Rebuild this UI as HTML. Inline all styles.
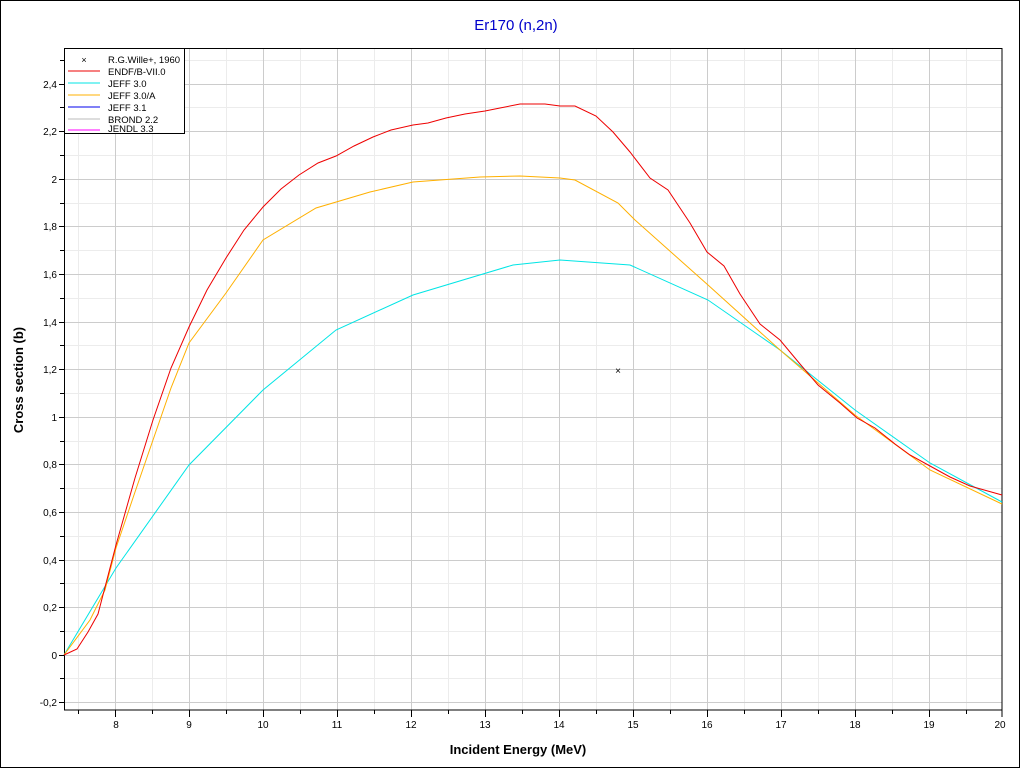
<!DOCTYPE html>
<html><head><meta charset="utf-8"><style>
body{margin:0;background:#fff;}
svg{display:block;font-family:"Liberation Sans",sans-serif;}
</style></head><body>
<svg width="1024" height="768" viewBox="0 0 1024 768" xmlns="http://www.w3.org/2000/svg">
<rect x="0" y="0" width="1024" height="768" fill="#fff"/>
<rect x="0.5" y="0.5" width="1019" height="767" fill="none" stroke="#000"/>
<text x="516" y="30" text-anchor="middle" font-size="15" fill="#0000cc">Er170 (n,2n)</text>
<g id="grid" stroke-width="1">
<g stroke="#ececec">
<line x1="78.5" y1="48" x2="78.5" y2="710"/><line x1="152.5" y1="48" x2="152.5" y2="710"/><line x1="226.5" y1="48" x2="226.5" y2="710"/><line x1="300.5" y1="48" x2="300.5" y2="710"/><line x1="374.5" y1="48" x2="374.5" y2="710"/><line x1="448.5" y1="48" x2="448.5" y2="710"/><line x1="522.5" y1="48" x2="522.5" y2="710"/><line x1="596.5" y1="48" x2="596.5" y2="710"/><line x1="670.5" y1="48" x2="670.5" y2="710"/><line x1="744.5" y1="48" x2="744.5" y2="710"/><line x1="818.5" y1="48" x2="818.5" y2="710"/><line x1="892.5" y1="48" x2="892.5" y2="710"/><line x1="966.5" y1="48" x2="966.5" y2="710"/>
<line x1="64" y1="678.5" x2="1002" y2="678.5"/><line x1="64" y1="631.5" x2="1002" y2="631.5"/><line x1="64" y1="583.5" x2="1002" y2="583.5"/><line x1="64" y1="536.5" x2="1002" y2="536.5"/><line x1="64" y1="488.5" x2="1002" y2="488.5"/><line x1="64" y1="441.5" x2="1002" y2="441.5"/><line x1="64" y1="393.5" x2="1002" y2="393.5"/><line x1="64" y1="345.5" x2="1002" y2="345.5"/><line x1="64" y1="298.5" x2="1002" y2="298.5"/><line x1="64" y1="250.5" x2="1002" y2="250.5"/><line x1="64" y1="203.5" x2="1002" y2="203.5"/><line x1="64" y1="155.5" x2="1002" y2="155.5"/><line x1="64" y1="107.5" x2="1002" y2="107.5"/><line x1="64" y1="60.5" x2="1002" y2="60.5"/>
</g>
<g stroke="#cccccc">
<line x1="115.5" y1="48" x2="115.5" y2="710"/><line x1="189.5" y1="48" x2="189.5" y2="710"/><line x1="263.5" y1="48" x2="263.5" y2="710"/><line x1="337.5" y1="48" x2="337.5" y2="710"/><line x1="411.5" y1="48" x2="411.5" y2="710"/><line x1="485.5" y1="48" x2="485.5" y2="710"/><line x1="559.5" y1="48" x2="559.5" y2="710"/><line x1="633.5" y1="48" x2="633.5" y2="710"/><line x1="707.5" y1="48" x2="707.5" y2="710"/><line x1="781.5" y1="48" x2="781.5" y2="710"/><line x1="855.5" y1="48" x2="855.5" y2="710"/><line x1="929.5" y1="48" x2="929.5" y2="710"/>
<line x1="64" y1="702.5" x2="1002" y2="702.5"/><line x1="64" y1="655.5" x2="1002" y2="655.5"/><line x1="64" y1="607.5" x2="1002" y2="607.5"/><line x1="64" y1="560.5" x2="1002" y2="560.5"/><line x1="64" y1="512.5" x2="1002" y2="512.5"/><line x1="64" y1="464.5" x2="1002" y2="464.5"/><line x1="64" y1="417.5" x2="1002" y2="417.5"/><line x1="64" y1="369.5" x2="1002" y2="369.5"/><line x1="64" y1="322.5" x2="1002" y2="322.5"/><line x1="64" y1="274.5" x2="1002" y2="274.5"/><line x1="64" y1="226.5" x2="1002" y2="226.5"/><line x1="64" y1="179.5" x2="1002" y2="179.5"/><line x1="64" y1="131.5" x2="1002" y2="131.5"/><line x1="64" y1="84.5" x2="1002" y2="84.5"/>
</g>
</g>
<rect x="64.5" y="48.5" width="937.5" height="661.5" fill="none" stroke="#000"/>
<g stroke="#000">
<line x1="115.5" y1="710" x2="115.5" y2="717"/><line x1="189.5" y1="710" x2="189.5" y2="717"/><line x1="263.5" y1="710" x2="263.5" y2="717"/><line x1="337.5" y1="710" x2="337.5" y2="717"/><line x1="411.5" y1="710" x2="411.5" y2="717"/><line x1="485.5" y1="710" x2="485.5" y2="717"/><line x1="559.5" y1="710" x2="559.5" y2="717"/><line x1="633.5" y1="710" x2="633.5" y2="717"/><line x1="707.5" y1="710" x2="707.5" y2="717"/><line x1="781.5" y1="710" x2="781.5" y2="717"/><line x1="855.5" y1="710" x2="855.5" y2="717"/><line x1="929.5" y1="710" x2="929.5" y2="717"/><line x1="1002" y1="710" x2="1002" y2="717"/>
<line x1="78.5" y1="710" x2="78.5" y2="714"/><line x1="152.5" y1="710" x2="152.5" y2="714"/><line x1="226.5" y1="710" x2="226.5" y2="714"/><line x1="300.5" y1="710" x2="300.5" y2="714"/><line x1="374.5" y1="710" x2="374.5" y2="714"/><line x1="448.5" y1="710" x2="448.5" y2="714"/><line x1="522.5" y1="710" x2="522.5" y2="714"/><line x1="596.5" y1="710" x2="596.5" y2="714"/><line x1="670.5" y1="710" x2="670.5" y2="714"/><line x1="744.5" y1="710" x2="744.5" y2="714"/><line x1="818.5" y1="710" x2="818.5" y2="714"/><line x1="892.5" y1="710" x2="892.5" y2="714"/><line x1="966.5" y1="710" x2="966.5" y2="714"/>
<line x1="59" y1="702.5" x2="64" y2="702.5"/><line x1="59" y1="655.5" x2="64" y2="655.5"/><line x1="59" y1="607.5" x2="64" y2="607.5"/><line x1="59" y1="560.5" x2="64" y2="560.5"/><line x1="59" y1="512.5" x2="64" y2="512.5"/><line x1="59" y1="464.5" x2="64" y2="464.5"/><line x1="59" y1="417.5" x2="64" y2="417.5"/><line x1="59" y1="369.5" x2="64" y2="369.5"/><line x1="59" y1="322.5" x2="64" y2="322.5"/><line x1="59" y1="274.5" x2="64" y2="274.5"/><line x1="59" y1="226.5" x2="64" y2="226.5"/><line x1="59" y1="179.5" x2="64" y2="179.5"/><line x1="59" y1="131.5" x2="64" y2="131.5"/><line x1="59" y1="84.5" x2="64" y2="84.5"/>
<line x1="60" y1="678.5" x2="64" y2="678.5"/><line x1="60" y1="631.5" x2="64" y2="631.5"/><line x1="60" y1="583.5" x2="64" y2="583.5"/><line x1="60" y1="536.5" x2="64" y2="536.5"/><line x1="60" y1="488.5" x2="64" y2="488.5"/><line x1="60" y1="441.5" x2="64" y2="441.5"/><line x1="60" y1="393.5" x2="64" y2="393.5"/><line x1="60" y1="345.5" x2="64" y2="345.5"/><line x1="60" y1="298.5" x2="64" y2="298.5"/><line x1="60" y1="250.5" x2="64" y2="250.5"/><line x1="60" y1="203.5" x2="64" y2="203.5"/><line x1="60" y1="155.5" x2="64" y2="155.5"/><line x1="60" y1="107.5" x2="64" y2="107.5"/><line x1="60" y1="60.5" x2="64" y2="60.5"/>
</g>
<g font-size="10" text-anchor="middle" fill="#000">
<text x="116" y="728">8</text><text x="189" y="728">9</text><text x="263" y="728">10</text><text x="337" y="728">11</text><text x="411" y="728">12</text><text x="485" y="728">13</text><text x="559" y="728">14</text><text x="633" y="728">15</text><text x="707" y="728">16</text><text x="781" y="728">17</text><text x="855" y="728">18</text><text x="929" y="728">19</text><text x="1000" y="728">20</text>
</g>
<g font-size="10" text-anchor="end" fill="#000">
<text x="57" y="706">-0,2</text><text x="57" y="659">0</text><text x="57" y="611">0,2</text><text x="57" y="564">0,4</text><text x="57" y="516">0,6</text><text x="57" y="468">0,8</text><text x="57" y="421">1</text><text x="57" y="373">1,2</text><text x="57" y="326">1,4</text><text x="57" y="278">1,6</text><text x="57" y="230">1,8</text><text x="57" y="183">2</text><text x="57" y="135">2,2</text><text x="57" y="88">2,4</text>
</g>
<text x="518" y="754" text-anchor="middle" font-size="13" font-weight="bold">Incident Energy (MeV)</text>
<text transform="translate(23,380) rotate(-90)" text-anchor="middle" font-size="13" font-weight="bold">Cross section (b)</text>
<polyline fill="none" stroke="#00e5e5" stroke-width="1" points="64,655 116,568 189,465 263,390 336,330 413,295 513,265 560,260 630,265 708,300 780,350 855,410 930,463 1002,502"/>
<polyline fill="none" stroke="#ffb000" stroke-width="1" points="64,655 90,620 105,590 116,548 135,492 153,440 171,388 189,343 226,293 263,240 316,208 370,192 413,182 480,177 520,176 560,178 575,180 618,203 635,220 708,285 780,350 855,415 930,470 1002,504"/>
<polyline fill="none" stroke="#ee0000" stroke-width="1" points="64,655 77,649 88,632 98,614 116,545 135,478 153,420 171,368 189,327 207,290 226,258 244,230 263,207 281,189 299,175 318,163 336,156 354,146 373,137 391,130 413,125 428,123 446,118 465,114 485,111 500,108 520,104 545,104 560,106 575,106 596,116 613,132 630,152 650,178 668,190 690,223 707,252 724,266 740,294 760,324 780,340 800,364 818,385 840,403 857,418 875,428 895,444 910,455 930,466 950,477 970,486 1002,495"/>
<text x="618" y="374" text-anchor="middle" font-size="10">×</text>
<rect x="64.5" y="48.5" width="120" height="85" fill="#fff" stroke="#000"/>
<g font-size="9.5" fill="#000">
<text x="84" y="63" text-anchor="middle" font-size="9">×</text><text x="108" y="63">R.G.Wille+, 1960</text>
<line x1="68" y1="71" x2="100" y2="71" stroke="#ee0000"/><text x="108" y="75">ENDF/B-VII.0</text>
<line x1="68" y1="83" x2="100" y2="83" stroke="#00e5e5"/><text x="108" y="87">JEFF 3.0</text>
<line x1="68" y1="95" x2="100" y2="95" stroke="#ffb000"/><text x="108" y="99">JEFF 3.0/A</text>
<line x1="68" y1="107" x2="100" y2="107" stroke="#0000ee"/><text x="108" y="111">JEFF 3.1</text>
<line x1="68" y1="119" x2="100" y2="119" stroke="#bbbbbb"/><text x="108" y="123">BROND 2.2</text>
<line x1="68" y1="130" x2="100" y2="130" stroke="#ff00ff"/><text x="108" y="132">JENDL 3.3</text>
</g>
</svg>
</body></html>
